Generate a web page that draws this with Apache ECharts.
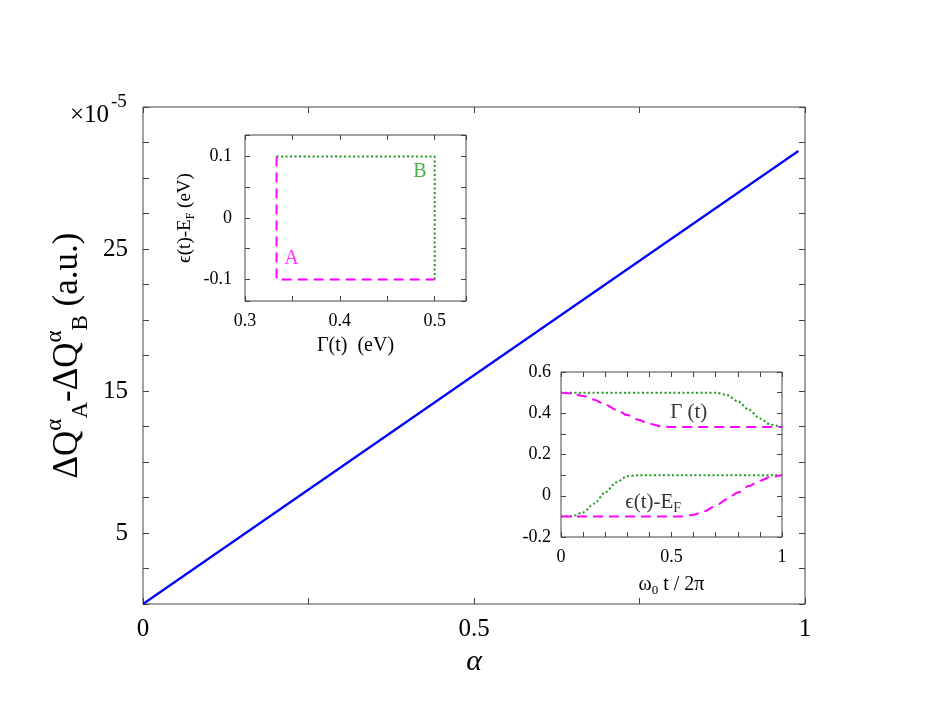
<!DOCTYPE html>
<html style="height: 100%">
  <head>
    <meta charset="utf-8" />
  </head>
  <body style="height: 100%; margin: 0; background: #fff">
    <div id="container" style="width: 948px; height: 712px"></div>
    <script src="https://cdn.jsdelivr.net/npm/echarts@6/dist/echarts.min.js"></script>
    <script>
      var FONT = "Liberation Serif";
      var BORDER = "#444";
      var MAGENTA = "#ff00ff";
      var GREEN = "#1c9a1c";

      // main plot: charge difference vs alpha (straight line)
      var alpha = [0, 0.99];
      var dQ = [0, 31.9];

      // inset 1: paths in the (Gamma, eps) plane
      var pathAGamma = [0.3333, 0.3333, 0.5];
      var pathAEps = [0.1, -0.1, -0.1];
      var pathBGamma = [0.3333, 0.5, 0.5];
      var pathBEps = [0.1, 0.1, -0.1];

      // inset 2: time dependence over one period
      var tPeriod = [0, 0.05, 0.1, 0.15, 0.2, 0.25, 0.3, 0.35, 0.4, 0.45, 0.5,
        0.55, 0.6, 0.65, 0.7, 0.75, 0.8, 0.85, 0.9, 0.95, 1];
      var gammaA = [0.5, 0.496, 0.484, 0.466, 0.442, 0.417, 0.391, 0.368, 0.349, 0.337, 0.333,
        0.333, 0.333, 0.333, 0.333, 0.333, 0.333, 0.333, 0.333, 0.333, 0.333];
      var gammaB = [0.5, 0.5, 0.5, 0.5, 0.5, 0.5, 0.5, 0.5, 0.5, 0.5, 0.5,
        0.5, 0.5, 0.5, 0.5, 0.489, 0.458, 0.417, 0.375, 0.344, 0.333];
      var epsA = [-0.1, -0.1, -0.1, -0.1, -0.1, -0.1, -0.1, -0.1, -0.1, -0.1, -0.1,
        -0.1, -0.092, -0.075, -0.048, -0.017, 0.016, 0.047, 0.073, 0.092, 0.1];
      var epsB = [-0.1, -0.099, -0.081, -0.038, 0.016, 0.065, 0.095, 0.1, 0.1, 0.1, 0.1,
        0.1, 0.1, 0.1, 0.1, 0.1, 0.1, 0.1, 0.1, 0.1, 0.1];

      // tick labels that are printed
      var mainXLabels = [0, 0.5, 1];
      var mainYLabels = [5, 15, 25];
      var in1XLabels = [0.3, 0.4, 0.5];
      var in1YLabels = [-0.1, 0, 0.1];
      var in2XLabels = [0, 0.5, 1];
      var in2YLabels = [-0.2, 0, 0.2, 0.4, 0.6];

      // text labels inside the insets: [x, y, text, colour]
      var in1Notes = [[0.349, -0.067, "A", MAGENTA], [0.4845, 0.075, "B", GREEN]];
      var in2Notes = [[0.578, 0.406, "{m|Γ (t)}"], [0.417, -0.031, "{m|ϵ(t)-E}{sub|F}"]];

      function zip(a, b) {
        return a.map(function (v, i) { return [v, b[i]]; });
      }
      function fmt(keep) {
        return function (v) {
          for (var i = 0; i < keep.length; i++) {
            if (Math.abs(keep[i] - v) < 1e-6) return String(keep[i]);
          }
          return "";
        };
      }

      function axisPair(gi, pos, cfg, isX) {
        var base = {
          gridIndex: gi,
          type: "value",
          min: cfg.min,
          max: cfg.max,
          axisLine: { show: false, onZero: false },
          splitLine: { show: false },
          axisTick: { inside: true, length: cfg.tick, lineStyle: { color: BORDER } },
        };
        if (cfg.interval) base.interval = cfg.interval;
        if (cfg.splitNumber) base.splitNumber = cfg.splitNumber;
        var main = Object.assign({}, base, {
          position: pos[0],
          axisLabel: {
            formatter: fmt(cfg.labels),
            fontFamily: FONT,
            fontSize: cfg.fontSize,
            color: "#000",
            margin: cfg.margin,
            showMinLabel: true,
            showMaxLabel: true,
          },
          name: cfg.name,
          nameLocation: "middle",
          nameGap: cfg.nameGap,
          nameRotate: isX ? 0 : 90,
          nameTextStyle: cfg.nameStyle,
        });
        var mirror = Object.assign({}, base, {
          position: pos[1],
          axisLabel: { show: false },
        });
        return [main, mirror];
      }

      var subRich = function (size, lh) {
        return {
          m: { fontFamily: FONT, fontSize: size, color: "#000", lineHeight: lh },
          sup: { fontFamily: FONT, fontSize: Math.round(size * 0.65), color: "#000", verticalAlign: "top", lineHeight: Math.round(size * 0.7) },
          sub: { fontFamily: FONT, fontSize: Math.round(size * 0.65), color: "#000", verticalAlign: "bottom", lineHeight: Math.round(lh * 0.7) },
        };
      };

      var mx = axisPair(0, ["bottom", "top"], {
        min: 0, max: 1, interval: 0.25, tick: 6, labels: mainXLabels,
        fontSize: 25, margin: 13, name: "α", nameGap: 40,
        nameStyle: { fontFamily: FONT, fontSize: 30, fontStyle: "italic", color: "#000" },
      }, true);
      var my = axisPair(0, ["left", "right"], {
        min: 0, max: 35, interval: 2.5, tick: 6, labels: mainYLabels,
        fontSize: 25, margin: 15,
        name: "{m|ΔQ}{sup|α}{sub|A}{m|-ΔQ}{sup|α}{sub|B}{m| (a.u.)}",
        nameGap: 50,
        nameStyle: { rich: subRich(35, 49) },
      }, false);
      var ax1 = axisPair(1, ["bottom", "top"], {
        min: 0.3, max: 0.533, interval: 0.05, tick: 5, labels: in1XLabels,
        fontSize: 18, margin: 11, name: "Γ(t)  (eV)", nameGap: 35,
        nameStyle: { fontFamily: FONT, fontSize: 20, color: "#000" },
      }, true);
      var ay1 = axisPair(1, ["left", "right"], {
        min: -0.135, max: 0.135, splitNumber: 5, tick: 5, labels: in1YLabels,
        fontSize: 18, margin: 13, name: "{m|ϵ(t)-E}{sub|F}{m| (eV)}", nameGap: 48,
        nameStyle: { rich: subRich(19, 24) },
      }, false);
      var ax2 = axisPair(2, ["bottom", "top"], {
        min: 0, max: 1, interval: 0.1, tick: 5, labels: in2XLabels,
        fontSize: 18, margin: 11, name: "{m|ω}{sub|0}{m| t / 2π}", nameGap: 36,
        nameStyle: { rich: subRich(20, 24) },
      }, true);
      var ay2 = axisPair(2, ["left", "right"], {
        min: -0.2, max: 0.6, interval: 0.1, tick: 5, labels: in2YLabels,
        fontSize: 18, margin: 10,
      }, false);

      function line(data, color, type, width, smooth) {
        return {
          type: "line",
          data: data,
          showSymbol: false,
          symbol: "none",
          smooth: smooth,
          smoothMonotone: "x",
          lineStyle: { color: color, width: width, type: type, cap: "butt" },
          silent: true,
        };
      }
      function notes(list, fontSize) {
        return {
          type: "scatter",
          symbolSize: 1,
          itemStyle: { color: "rgba(0,0,0,0)" },
          data: list.map(function (n) {
            return {
              value: [n[0], n[1]],
              label: {
                show: true,
                position: "inside",
                formatter: n[2],
                color: n[3] || "#000",
                fontFamily: FONT,
                fontSize: fontSize,
                rich: subRich(fontSize, 26),
              },
            };
          }),
          silent: true,
        };
      }

      var dashed = [10, 6];
      var dotted = [2, 2.5];

      // each grid has a bottom/top x axis pair and left/right y axis pair;
      // series use the first of each pair
      function on(gi, obj) {
        obj.xAxisIndex = gi * 2;
        obj.yAxisIndex = gi * 2;
        return obj;
      }

      var option = {
        animation: false,
        backgroundColor: "#fff",
        grid: [
          { left: 143, top: 107, width: 662, height: 497 },
          { left: 245, top: 135, width: 221, height: 166 },
          { left: 561, top: 372, width: 221, height: 165 },
        ].map(function (g) {
          return Object.assign(g, {
            show: true,
            borderColor: BORDER,
            borderWidth: 1,
            backgroundColor: "#fff",
            containLabel: false,
            outerBoundsMode: "none",
          });
        }),
        xAxis: [mx[0], mx[1], ax1[0], ax1[1], ax2[0], ax2[1]],
        yAxis: [my[0], my[1], ay1[0], ay1[1], ay2[0], ay2[1]],
        graphic: [
          { type: "text", left: 70, top: 103, style: { text: "×10", font: "25px 'Liberation Serif'", fill: "#000" } },
          { type: "text", left: 111, top: 93, style: { text: "-5", font: "19px 'Liberation Serif'", fill: "#000" } },
        ],
        series: [
          on(0, line(zip(alpha, dQ), "#0000ff", "solid", 2.2, false)),
          on(1, line(zip(pathAGamma, pathAEps), MAGENTA, dashed, 2, false)),
          on(1, line(zip(pathBGamma, pathBEps), GREEN, dotted, 2, false)),
          on(2, line(zip(tPeriod, gammaB), GREEN, dotted, 2, 0.3)),
          on(2, line(zip(tPeriod, epsB), GREEN, dotted, 2, 0.3)),
          on(2, line(zip(tPeriod, gammaA), MAGENTA, dashed, 2, 0.3)),
          on(2, line(zip(tPeriod, epsA), MAGENTA, dashed, 2, 0.3)),
          on(1, notes(in1Notes, 20)),
          on(2, notes(in2Notes, 21)),
        ],
      };

      var myChart = echarts.init(document.getElementById("container"), null, { renderer: "canvas" });
      myChart.setOption(option);
    </script>
  </body>
</html>
